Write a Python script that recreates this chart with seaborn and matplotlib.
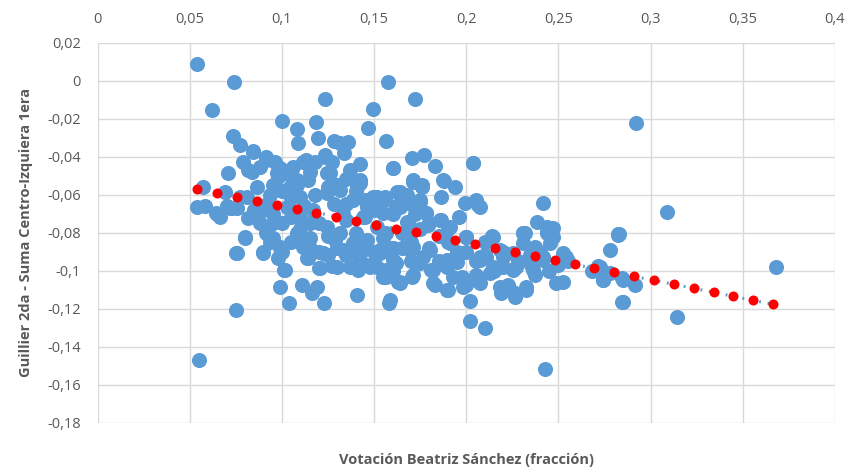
import seaborn as sns
import matplotlib.pyplot as plt
from matplotlib.ticker import FuncFormatter

# Votación Beatriz Sánchez (x) vs Guillier 2da - Suma Centro-Izquierda 1era (y)
# values
blue_x = [
    0.0539, 0.0741, 0.0618, 0.0998, 0.1233, 0.1576, 0.1079, 0.1088, 0.1182, 0.1196,
    0.1282, 0.1359, 0.1336, 0.1495, 0.1468, 0.1567, 0.1600, 0.1625, 0.0736, 0.0772,
    0.0841, 0.0790, 0.0708, 0.0817, 0.0880, 0.0916, 0.0962, 0.0989, 0.0979, 0.1061,
    0.1115, 0.1178, 0.1233, 0.1269, 0.1260, 0.1368, 0.1422, 0.1422, 0.1079, 0.0862,
    0.0573, 0.0690, 0.0537, 0.0642, 0.0727, 0.0754, 0.0808, 0.0817, 0.0799, 0.0934,
    0.1459, 0.1513, 0.1549, 0.1405,
    0.1721, 0.2919, 0.2034, 0.1708, 0.1770, 0.1829, 0.1603, 0.1878, 0.1938, 0.1865,
    0.1712, 0.1757, 0.1636, 0.1748, 0.1992, 0.2055, 0.2073, 0.2417, 0.2381, 0.2471,
    0.2435, 0.1780, 0.1865, 0.1793, 0.1901, 0.2001, 0.2137, 0.2317, 0.2823, 0.1694,
    0.1639, 0.1666,
    0.0799, 0.0750, 0.0898, 0.0934, 0.0989, 0.0979, 0.1012, 0.0989, 0.1039, 0.1106,
    0.1188, 0.1164, 0.1227, 0.1137, 0.1223, 0.1202, 0.1269, 0.1124, 0.1287, 0.1332,
    0.1368, 0.1405, 0.1413, 0.1440, 0.1477, 0.1549, 0.1581, 0.1531, 0.1603, 0.1621,
    0.1630, 0.0748, 0.0551,
    0.2019, 0.2019, 0.2100, 0.2429, 0.2850, 0.2823, 0.2778, 0.2715, 0.2739, 0.2850,
    0.2914, 0.2489, 0.2525, 0.2543, 0.2525, 0.2453, 0.2471, 0.2435, 0.2308, 0.2371,
    0.2371, 0.2326, 0.2263, 0.2190, 0.2227, 0.2137, 0.2182, 0.2109, 0.2073, 0.2127,
    0.2200, 0.2272, 0.2073, 0.2001, 0.1901, 0.1829, 0.1811, 0.1703, 0.1639, 0.1603,
    0.1694, 0.1748, 0.1893, 0.1947, 0.2001, 0.1911, 0.1802, 0.2055, 0.1974, 0.1929,
    0.2308, 0.2254, 0.2344, 0.2417,
    0.3091, 0.2827, 0.2724, 0.2742, 0.2842, 0.2847, 0.3143, 0.3678,
    0.0844, 0.0916, 0.0835, 0.0971, 0.1133, 0.1233, 0.1314, 0.1242, 0.1142, 0.1043,
    0.0934, 0.0772, 0.0717, 0.0898, 0.1025, 0.1097, 0.1242, 0.1314, 0.1386, 0.1422,
    0.1495, 0.1558, 0.1549, 0.1567, 0.1531, 0.1459, 0.1386, 0.1314, 0.1242, 0.1151,
    0.1079, 0.1115, 0.0989, 0.0916, 0.0952, 0.0754, 0.0898, 0.1016, 0.1142, 0.1223,
    0.1206, 0.1296, 0.1350, 0.1422, 0.1513, 0.1567, 0.0663, 0.1169, 0.1350, 0.1440,
    0.1513,
    0.1712, 0.1757, 0.1874, 0.1639, 0.1558, 0.1748, 0.1784, 0.1676, 0.1856, 0.1911,
    0.2064, 0.2037, 0.2308, 0.2435, 0.2145, 0.2001, 0.1567, 0.1603, 0.1712, 0.1766,
    0.1820, 0.1893, 0.1965, 0.2073, 0.2145, 0.2200, 0.2254, 0.2362, 0.2417, 0.1567,
    0.1639, 0.1712, 0.1820, 0.1893, 0.1983, 0.2182, 0.2254, 0.2326, 0.1585,
    0.0950, 0.1000, 0.1050, 0.1100, 0.1150, 0.1200, 0.1250, 0.1300, 0.1350, 0.1400,
    0.1450, 0.1500, 0.1550, 0.1600, 0.1650, 0.1700, 0.1750, 0.1800, 0.1850, 0.1900,
    0.1950, 0.2050, 0.2100, 0.2150, 0.2200, 0.1050, 0.1120, 0.1180, 0.1280, 0.1330,
    0.1450, 0.1620, 0.1680, 0.1720, 0.1580, 0.1480, 0.1380, 0.1250, 0.1150, 0.1050,
    0.0950, 0.0880, 0.0850, 0.0920, 0.1000, 0.1080, 0.1000, 0.0700, 0.0650, 0.0580,
    0.2280, 0.2350, 0.2400, 0.2450, 0.2500, 0.2550, 0.2680, 0.2720, 0.2780, 0.1960,
    0.1050, 0.0950, 0.1150, 0.1300, 0.1400, 0.1500, 0.1700, 0.1800, 0.1900, 0.2000,
    0.2100, 0.1700, 0.1600, 0.1450, 0.1200, 0.1100, 0.1250, 0.1350, 0.1650, 0.1850,
]
blue_y = [
    0.0086, -0.0009, -0.0154, -0.0210, -0.0098, -0.0008, -0.0254, -0.0326, -0.0219, -0.0300,
    -0.0316, -0.0321, -0.0379, -0.0151, -0.0247, -0.0316, -0.0458, -0.0584, -0.0291, -0.0338,
    -0.0370, -0.0426, -0.0484, -0.0470, -0.0453, -0.0403, -0.0426, -0.0461, -0.0505, -0.0453,
    -0.0426, -0.0426, -0.0400, -0.0426, -0.0487, -0.0470, -0.0438, -0.0523, -0.0523, -0.0558,
    -0.0558, -0.0584, -0.0666, -0.0698, -0.0672, -0.0672, -0.0610, -0.0724, -0.0821, -0.0821,
    -0.0663, -0.0610, -0.0628, -0.0558,
    -0.0096, -0.0221, -0.0432, -0.0405, -0.0391, -0.0449, -0.0461, -0.0528, -0.0561, -0.0610,
    -0.0531, -0.0558, -0.0584, -0.0628, -0.0645, -0.0628, -0.0663, -0.0645, -0.0742, -0.0777,
    -0.0795, -0.0695, -0.0733, -0.0759, -0.0777, -0.0821, -0.0817, -0.0803, -0.0807, -0.0768,
    -0.0663, -0.0628,
    -0.0826, -0.0909, -0.0905, -0.0847, -0.0882, -0.0935, -0.0996, -0.1087, -0.1172, -0.1075,
    -0.1084, -0.1119, -0.1168, -0.0935, -0.0909, -0.0987, -0.0975, -0.0856, -0.0838, -0.0891,
    -0.0979, -0.1128, -0.0996, -0.0891, -0.0979, -0.1032, -0.1172, -0.0909, -0.0882, -0.0961,
    -0.1058, -0.1207, -0.1470,
    -0.1158, -0.1263, -0.1300, -0.1519, -0.1163, -0.0812, -0.0891, -0.0975, -0.1049, -0.1049,
    -0.1075, -0.1066, -0.1058, -0.0926, -0.0909, -0.0856, -0.0821, -0.0803, -0.0803, -0.0874,
    -0.1023, -0.1102, -0.1137, -0.1119, -0.1075, -0.0821, -0.0891, -0.0926, -0.0926, -0.1014,
    -0.0979, -0.0979, -0.1066, -0.1075, -0.1102, -0.1075, -0.0996, -0.1032, -0.1058, -0.0882,
    -0.0891, -0.0961, -0.0979, -0.0953, -0.0821, -0.0856, -0.0891, -0.1023, -0.1032, -0.1032,
    -0.0856, -0.0909, -0.0917, -0.0926,
    -0.0691, -0.0808, -0.0979, -0.1049, -0.1040, -0.1163, -0.1242, -0.0979,
    -0.0374, -0.0417, -0.0479, -0.0487, -0.0417, -0.0391, -0.0330, -0.0487, -0.0523, -0.0558,
    -0.0602, -0.0610, -0.0672, -0.0680, -0.0663, -0.0610, -0.0593, -0.0575, -0.0628, -0.0540,
    -0.0610, -0.0610, -0.0698, -0.0803, -0.0891, -0.0838, -0.0856, -0.0803, -0.0768, -0.0750,
    -0.0803, -0.0874, -0.0874, -0.0803, -0.0750, -0.0909, -0.0900, -0.0996, -0.0935, -0.0909,
    -0.0987, -0.0979, -0.0917, -0.0944, -0.0979, -0.0996, -0.0716, -0.0680, -0.0733, -0.0716,
    -0.0768,
    -0.0523, -0.0549, -0.0523, -0.0584, -0.0628, -0.0637, -0.0698, -0.0742, -0.0733, -0.0768,
    -0.0654, -0.0435, -0.0803, -0.0768, -0.0821, -0.0821, -0.0874, -0.0944, -0.0874, -0.0926,
    -0.0996, -0.0944, -0.0909, -0.0944, -0.0979, -0.0926, -0.0996, -0.0996, -0.0944, -0.1032,
    -0.1066, -0.1023, -0.1066, -0.1102, -0.1084, -0.1084, -0.1111, -0.1084, -0.1154,
    -0.0700, -0.0750, -0.0720, -0.0780, -0.0830, -0.0750, -0.0820, -0.0880, -0.0650, -0.0800,
    -0.0720, -0.0900, -0.0830, -0.0700, -0.0800, -0.0850, -0.0780, -0.0880, -0.0950, -0.0850,
    -0.0900, -0.0950, -0.0850, -0.1000, -0.0900, -0.0620, -0.0660, -0.0600, -0.0650, -0.0700,
    -0.0630, -0.0660, -0.0600, -0.0700, -0.0900, -0.0970, -0.0900, -0.0920, -0.0880, -0.0850,
    -0.0830, -0.0750, -0.0680, -0.0650, -0.0580, -0.0550, -0.0900, -0.0660, -0.0700, -0.0660,
    -0.0950, -0.0970, -0.0900, -0.1000, -0.0970, -0.0950, -0.1000, -0.0980, -0.1010, -0.0720,
    -0.0500, -0.0550, -0.0480, -0.0550, -0.0580, -0.0680, -0.0650, -0.0750, -0.0780, -0.0900,
    -0.0920, -0.0950, -0.1000, -0.0850, -0.0900, -0.0720, -0.0560, -0.0520, -0.0880, -0.0820,
]

# red points along the trend line
red_x = [0.0540, 0.0648, 0.0756, 0.0863, 0.0971, 0.1079, 0.1187, 0.1294, 0.1402, 0.1510,
         0.1617, 0.1725, 0.1833, 0.1940, 0.2048, 0.2156, 0.2264, 0.2371, 0.2479, 0.2587,
         0.2694, 0.2802, 0.2910, 0.3018, 0.3125, 0.3233, 0.3341, 0.3448, 0.3556, 0.3664]
red_y = [-0.0568, -0.0589, -0.0610, -0.0631, -0.0652, -0.0673, -0.0694, -0.0715, -0.0736, -0.0757,
         -0.0778, -0.0799, -0.0820, -0.0841, -0.0862, -0.0883, -0.0904, -0.0925, -0.0946, -0.0967,
         -0.0988, -0.1009, -0.1030, -0.1051, -0.1072, -0.1093, -0.1114, -0.1135, -0.1156, -0.1177]

x_ticks = [0, 0.05, 0.1, 0.15, 0.2, 0.25, 0.3, 0.35, 0.4]
y_ticks = [0.02, 0, -0.02, -0.04, -0.06, -0.08, -0.1, -0.12, -0.14, -0.16, -0.18]

sns.set_style("white")
plt.rcParams["font.family"] = ["Open Sans", "DejaVu Sans"]

fig, ax = plt.subplots(figsize=(8.49, 4.67), dpi=100)
fig.subplots_adjust(left=0.115, right=0.9835, top=0.9086, bottom=0.0949)

sns.scatterplot(x=blue_x, y=blue_y, color="#5B9BD5", s=118, linewidth=0, alpha=1, ax=ax, zorder=3)
sns.lineplot(x=red_x, y=red_y, color="#5B9BD5", linewidth=2.2, linestyle=(0, (0.6, 2.2)),
             ax=ax, zorder=4)
sns.scatterplot(x=red_x, y=red_y, color="#FF0000", s=52, linewidth=0, ax=ax, zorder=5)

ax.set_xlim(0, 0.4)
ax.set_ylim(-0.18, 0.02)
ax.set_xticks(x_ticks)
ax.set_yticks(y_ticks)

fmt = FuncFormatter(lambda v, p: "0" if abs(v) < 1e-9 else f"{round(v, 2):g}".replace(".", ","))
ax.xaxis.set_major_formatter(fmt)
ax.yaxis.set_major_formatter(fmt)

ax.xaxis.tick_top()
ax.xaxis.set_label_position("bottom")
ax.tick_params(axis="both", length=0, labelsize=10.5, colors="#595959")
ax.tick_params(axis="x", pad=11)
ax.tick_params(axis="y", pad=12)

ax.grid(True, color="#D9D9D9", linewidth=1)
ax.set_axisbelow(True)
for s in ax.spines.values():
    s.set_visible(False)

ax.set_xlabel("Votación Beatriz Sánchez (fracción)", fontsize=10.5, fontweight="bold",
              color="#595959", labelpad=22)
ax.set_ylabel("Guillier 2da - Suma Centro-Izquiera 1era", fontsize=10.5, fontweight="bold",
              color="#595959", labelpad=10)

plt.savefig("out.png", dpi=100)
